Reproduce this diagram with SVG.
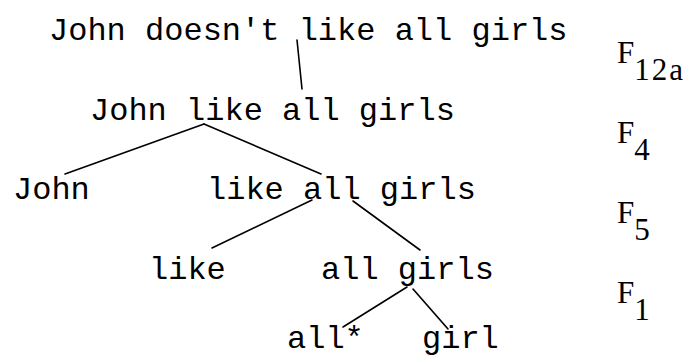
<svg xmlns="http://www.w3.org/2000/svg" width="693" height="361" viewBox="0 0 693 361">
<style>
.t{font-family:"Liberation Mono","Courier New",monospace;font-size:32px;fill:#000}
.f{font-family:"Liberation Serif","Times New Roman",serif;font-size:31px;fill:#000}
.e{stroke:#000;stroke-width:1.6;fill:none;stroke-linecap:round}
</style>
<rect width="693" height="361" fill="#fff"/>
<g id="connectors">
<line class="e" x1="297" y1="40" x2="302" y2="89"/>
<line class="e" x1="204" y1="124" x2="65" y2="174"/>
<line class="e" x1="204" y1="124" x2="321" y2="174"/>
<line class="e" x1="312" y1="200" x2="212" y2="248"/>
<line class="e" x1="353" y1="201" x2="420" y2="250"/>
<line class="e" x1="407" y1="287" x2="343" y2="327"/>
<line class="e" x1="413" y1="289" x2="448" y2="329"/>
</g>
<g id="n1"><text class="t" x="49" y="40">John doesn't like all girls</text></g>
<g id="n2"><text class="t" x="90" y="120">John like all girls</text></g>
<g id="n3"><text class="t" x="13" y="199">John</text></g>
<g id="n4"><text class="t" x="207" y="199">like all girls</text></g>
<g id="n5"><text class="t" x="149" y="279">like</text></g>
<g id="n6"><text class="t" x="321" y="279">all girls</text></g>
<g id="n7"><text class="t" x="287" y="348">all*</text></g>
<g id="n8"><text class="t" x="422" y="348">girl</text></g>
<g id="labels">
<text class="f" x="617" y="63">F<tspan dy="17" letter-spacing="2">12a</tspan></text>
<text class="f" x="617" y="143">F<tspan dy="17">4</tspan></text>
<text class="f" x="617" y="223">F<tspan dy="17">5</tspan></text>
<text class="f" x="617" y="303">F<tspan dy="17">1</tspan></text>
</g>
</svg>
